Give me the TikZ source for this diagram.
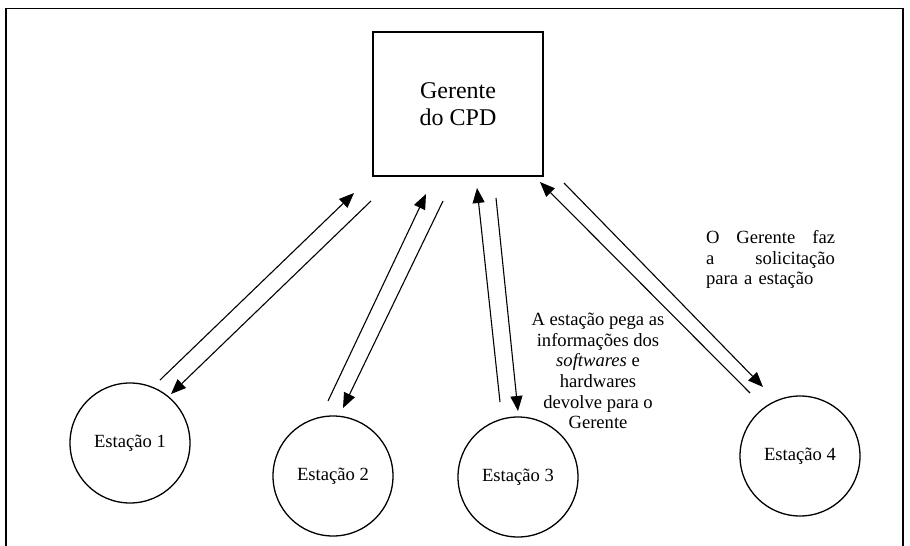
\documentclass[tikz,border=0pt]{standalone}
\usepackage{fontspec}
\setmainfont{Liberation Serif}
\usetikzlibrary{arrows.meta}
\begin{document}
\begin{tikzpicture}[x=1pt,y=-1pt,
  manager/.style={draw,line width=1.6pt,minimum width=170pt,minimum height=144pt,
    align=center,font=\fontsize{24}{27.6}\selectfont,inner sep=0pt},
  station/.style={draw,circle,line width=1.3pt,minimum size=120pt,inner sep=0pt,
    font=\fontsize{18.6}{21}\selectfont},
  note/.style={inner sep=0pt,font=\fontsize{18.6}{20.7}\selectfont},
  flow/.style={line width=1.1pt,-{Triangle[length=15pt,width=12pt]}}]
\useasboundingbox (0,0) rectangle (910,546);
% page frame
\draw[line width=1.5pt] (6,546) -- (6,8.5) -- (903,8.5) -- (903,546);
% nodes
\node[manager] (cpd) at (458,104) {Gerente\\do CPD};
\node[station] (e1) at (130,443) {Estação 1};
\node[station] (e2) at (333,476) {Estação 2};
\node[station] (e3) at (518,477) {Estação 3};
\node[station] (e4) at (800,456) {Estação 4};
% arrow end points
\coordinate (u1s) at (160,380); \coordinate (u1e) at (354,193);
\coordinate (d1s) at (371,201); \coordinate (d1e) at (171,394);
\coordinate (u2s) at (328,401); \coordinate (u2e) at (426,194);
\coordinate (d2s) at (443,201); \coordinate (d2e) at (343,408);
\coordinate (u3s) at (500,402); \coordinate (u3e) at (477,188);
\coordinate (d3s) at (496,198); \coordinate (d3e) at (518,411);
\coordinate (u4s) at (750,393); \coordinate (u4e) at (540,182);
\coordinate (d4s) at (564,183); \coordinate (d4e) at (763,387);
% connectors
\draw[flow] (u1s) -- (u1e);
\draw[flow] (d1s) -- (d1e);
\draw[flow] (u2s) -- (u2e);
\draw[flow] (d2s) -- (d2e);
\draw[flow] (u3s) -- (u3e);
\draw[flow] (d3s) -- (d3e);
\draw[flow] (u4s) -- (u4e);
\draw[flow] (d4s) -- (d4e);
% notes
\node[note,align=center] (back) at (598,371)
  {A estação pega as\\informações dos\\\textit{softwares} e\\hardwares\\devolve para o\\Gerente};
\node[note,text width=129pt,align=left] (ask) at (770.5,259.5)
  {\makebox[129pt][l]{O\hfill Gerente\hfill faz}\\
   \makebox[129pt][l]{a\hfill solicitação}\\
   para a estação};
\end{tikzpicture}
\end{document}
